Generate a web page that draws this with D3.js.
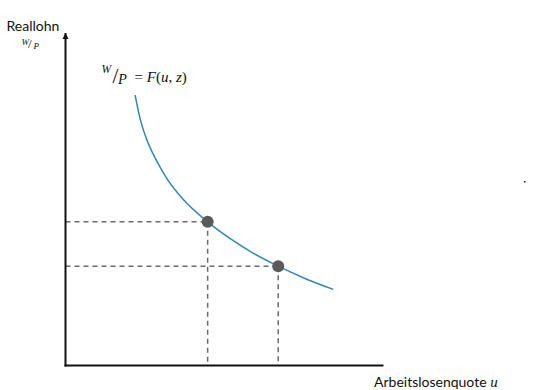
<!DOCTYPE html>
<html>
<head>
<meta charset="utf-8">
<script src="https://cdn.jsdelivr.net/npm/d3@7"></script>
<style>
  html, body { margin: 0; padding: 0; background: #fff; }
  svg { display: block; }
</style>
</head>
<body>
<svg id="chart" width="536" height="390"></svg>
<script>
// Lohnsetzungskurve W/P = F(u, z) (Achsen 0..10)
const curveU = [2.19, 2.34, 2.56, 2.85, 3.22, 3.69, 4.47, 5.17, 5.91, 6.69, 7.53, 8.42];
const curveW = [8.17, 7.48, 6.81, 6.21, 5.60, 5.03, 4.34, 3.84, 3.39, 3.00, 2.63, 2.30];

// die beiden markierten Punkte auf der Kurve
const pointU = [4.47, 6.69];
const pointW = [4.34, 3.00];

const axisLabelX = "Arbeitslosenquote ";
const axisLabelY = "Reallohn";

const svg = d3.select("svg#chart");

const attr_area = {
    x0: 65.5,
    y0: 365.5,
    width: 318,
    height: 331
};

const scX = d3.scaleLinear().domain([0, 10]).range([attr_area.x0, attr_area.x0 + attr_area.width]);
const scY = d3.scaleLinear().domain([0, 10]).range([attr_area.y0, attr_area.y0 - attr_area.height]);

const curveData = curveU.map((u, i) => ({u: u, w: curveW[i]}));
const pointData = pointU.map((u, i) => ({u: u, w: pointW[i]}));

// gestrichelte Hilfslinien
const dash = svg.append("g")
    .style("stroke", "#6b6b6b")
    .style("stroke-width", 1.5)
    .style("stroke-dasharray", "5,4")
    .style("fill", "none");

dash.selectAll(".h")
    .data(pointData)
    .enter()
    .append("line")
    .attr("x1", scX(0))
    .attr("x2", d => scX(d.u))
    .attr("y1", d => scY(d.w))
    .attr("y2", d => scY(d.w));

dash.selectAll(".v")
    .data(pointData)
    .enter()
    .append("line")
    .attr("x1", d => scX(d.u))
    .attr("x2", d => scX(d.u))
    .attr("y1", d => scY(d.w))
    .attr("y2", scY(0));

// Achsen
svg.append("defs").append("marker")
    .attr("id", "arrow")
    .attr("viewBox", "0 0 10 10")
    .attr("refX", 10)
    .attr("refY", 5)
    .attr("markerWidth", 3)
    .attr("markerHeight", 3.5)
    .attr("orient", "auto")
    .append("path")
    .attr("d", "M0,0 L10,5 L0,10 z")
    .style("fill", "#111");

svg.append("line")
    .attr("x1", scX(0))
    .attr("x2", scX(0))
    .attr("y1", scY(0) + 1)
    .attr("y2", 33)
    .attr("marker-end", "url(#arrow)")
    .style("stroke", "#111")
    .style("stroke-width", 2);

svg.append("line")
    .attr("x1", scX(0) - 1)
    .attr("x2", scX(10))
    .attr("y1", scY(0))
    .attr("y2", scY(0))
    .style("stroke", "#111")
    .style("stroke-width", 2);

// Kurve
const line = d3.line()
    .x(d => scX(d.u))
    .y(d => scY(d.w))
    .curve(d3.curveMonotoneX);

svg.append("path")
    .datum(curveData)
    .attr("d", line)
    .style("fill", "none")
    .style("stroke", "#2f86bd")
    .style("stroke-width", 1.5);

// Punkte
svg.selectAll(".dot")
    .data(pointData)
    .enter()
    .append("circle")
    .attr("cx", d => scX(d.u))
    .attr("cy", d => scY(d.w))
    .attr("r", 6)
    .style("fill", "#5a5a5a");

// Beschriftungen
const sans = "Lato, 'Open Sans', sans-serif";
const serif = "'Liberation Serif', 'DejaVu Serif', serif";

svg.append("text")
    .attr("x", 6.5)
    .attr("y", 31)
    .style("font-family", sans)
    .style("font-size", "14px")
    .style("fill", "#111")
    .text(axisLabelY);

function serifText(x, y, size, txt, italic) {
    return svg.append("text")
        .attr("x", x)
        .attr("y", y)
        .style("font-family", serif)
        .style("font-style", italic ? "italic" : "normal")
        .style("font-size", size + "px")
        .style("fill", "#111")
        .text(txt);
}

// W/P unter "Reallohn"
serifText(21.5, 44.5, 9, "W", true);
serifText(28, 48, 13, "/", false);
serifText(33.5, 48.5, 9, "P", true);

// Formel W/P = F(u, z)
serifText(101.5, 72.5, 11.5, "W", true);
serifText(112.5, 83, 21, "/", false);
serifText(118, 83.5, 14.5, "P", true);
const eq = serifText(134.5, 81.5, 15, "= ", false);
eq.append("tspan").style("font-style", "italic").text("F");
eq.append("tspan").text("(");
eq.append("tspan").style("font-style", "italic").text("u");
eq.append("tspan").text(", ");
eq.append("tspan").style("font-style", "italic").text("z");
eq.append("tspan").text(")");

const xl = svg.append("text")
    .attr("x", 374)
    .attr("y", 387)
    .style("font-family", sans)
    .style("font-size", "14px")
    .style("fill", "#111")
    .text(axisLabelX);
xl.append("tspan")
    .style("font-family", serif)
    .style("font-style", "italic")
    .style("font-size", "15px")
    .text("u");

// kleiner Punkt rechts
svg.append("rect")
    .attr("x", 524)
    .attr("y", 181)
    .attr("width", 1.5)
    .attr("height", 1.5)
    .style("fill", "#111");
</script>
</body>
</html>
